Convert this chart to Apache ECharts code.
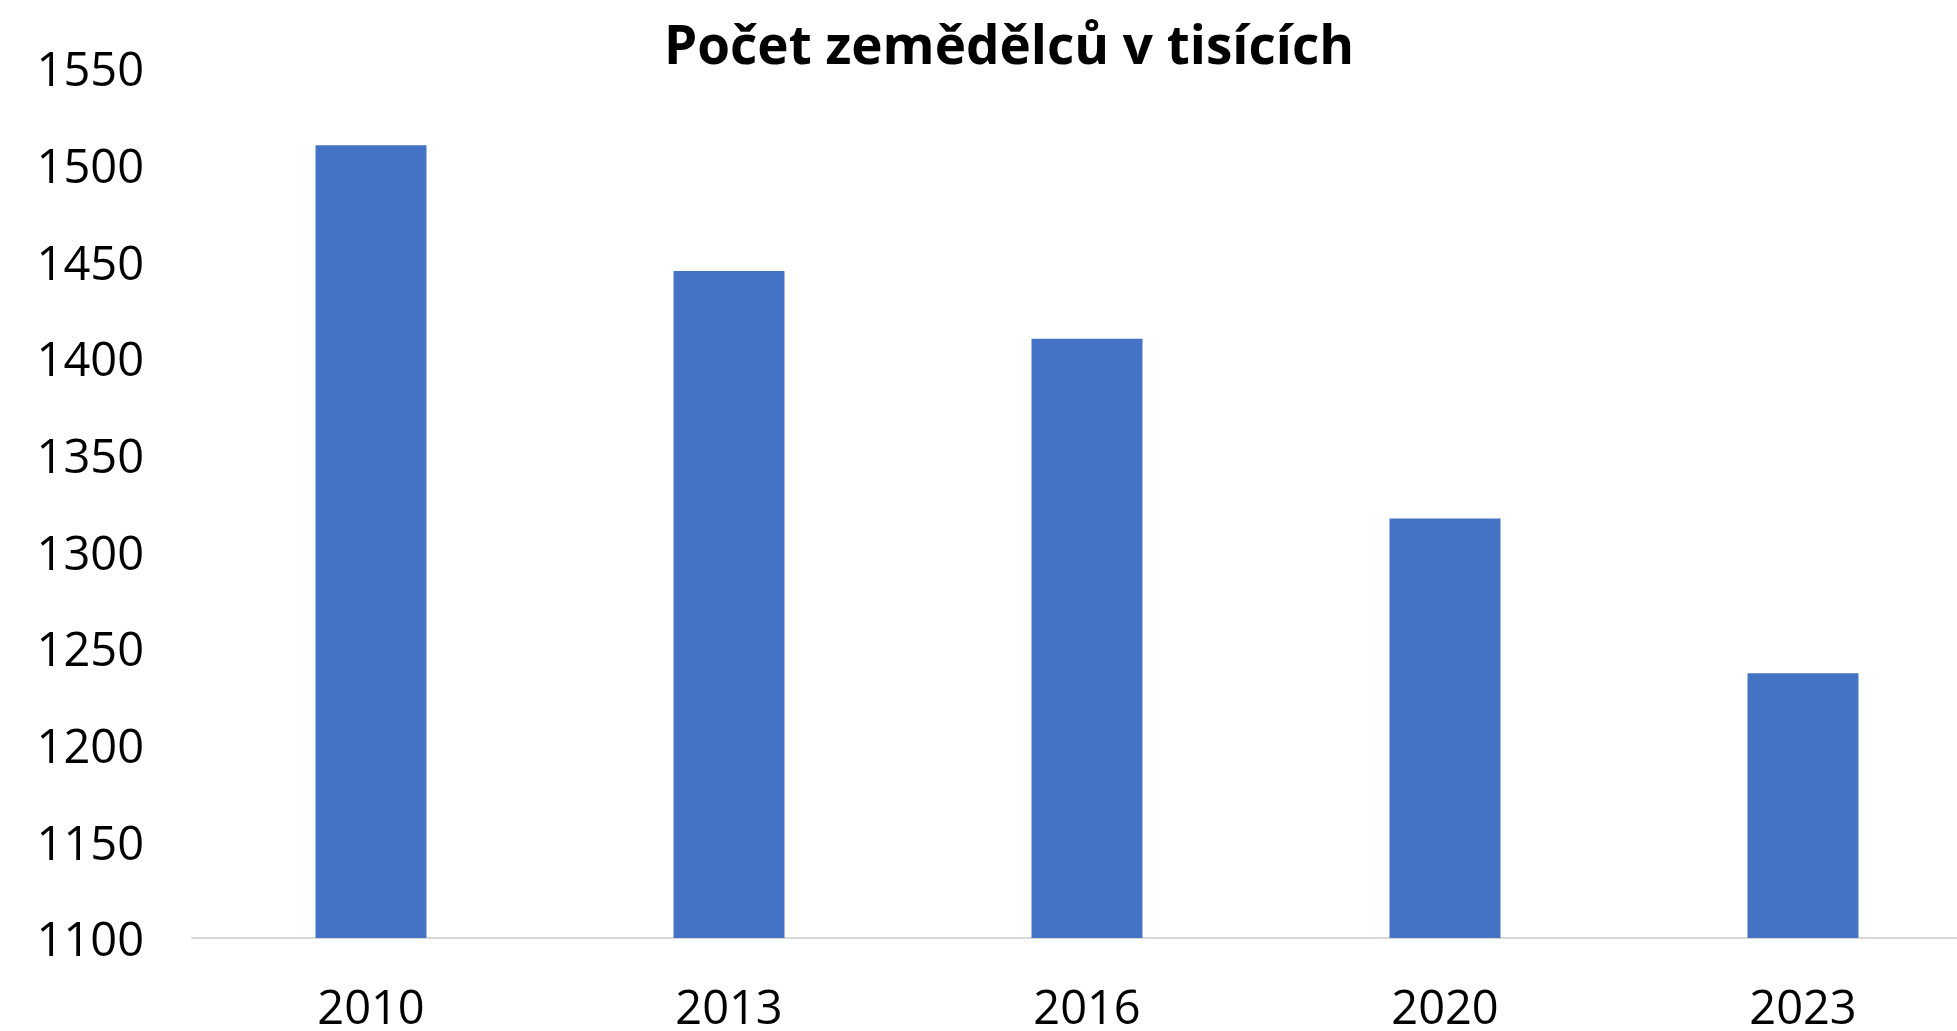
<!DOCTYPE html>
<html>
<head>
<meta charset="utf-8">
<script src="https://cdn.jsdelivr.net/npm/echarts@6/dist/echarts.min.js"></script>
<style>
  html, body { margin: 0; padding: 0; background: #fff; }
  #chart { width: 1957px; height: 1031px; }
</style>
</head>
<body>
<div id="chart"></div>
<script>
// data
const years = ['2010', '2013', '2016', '2020', '2023'];
const farmers = [1510, 1445, 1410, 1317, 1237];
const chartTitle = 'Počet zemědělců v tisících';

const chart = echarts.init(document.getElementById('chart'));
chart.setOption({
    animation: false,
    title: {
        text: chartTitle,
        left: 1004,
        top: 17,
        textAlign: 'center',
        textStyle: {
            fontFamily: 'Open Sans',
            fontWeight: 'bold',
            fontSize: 53,
            color: '#000'
        }
    },
    // plot area runs a bit past the right edge, like the original
    grid: {
        left: 192,
        width: 1790,
        top: 68,
        bottom: 93,
        outerBoundsMode: 'none'
    },
    xAxis: {
        type: 'category',
        data: years,
        axisTick: { show: false },
        axisLine: { lineStyle: { color: '#d9d9d9', width: 2 } },
        axisLabel: {
            margin: 49,
            fontFamily: 'Open Sans',
            fontSize: 47,
            color: '#000'
        }
    },
    yAxis: {
        type: 'value',
        min: 1100,
        max: 1550,
        interval: 50,
        splitLine: { show: false },
        axisLine: { show: false },
        axisTick: { show: false },
        axisLabel: {
            margin: 48,
            fontFamily: 'Open Sans',
            fontSize: 47,
            color: '#000',
            // nudge digits down so they sit centred on the tick
            formatter: v => '{v|' + v + '}',
            rich: {
                v: {
                    fontFamily: 'Open Sans',
                    fontSize: 47,
                    color: '#000',
                    padding: [10, 0, 0, 0]
                }
            }
        }
    },
    series: [{
        type: 'bar',
        data: farmers,
        barWidth: '31%',
        itemStyle: { color: '#4472c4' }
    }]
});
</script>
</body>
</html>
